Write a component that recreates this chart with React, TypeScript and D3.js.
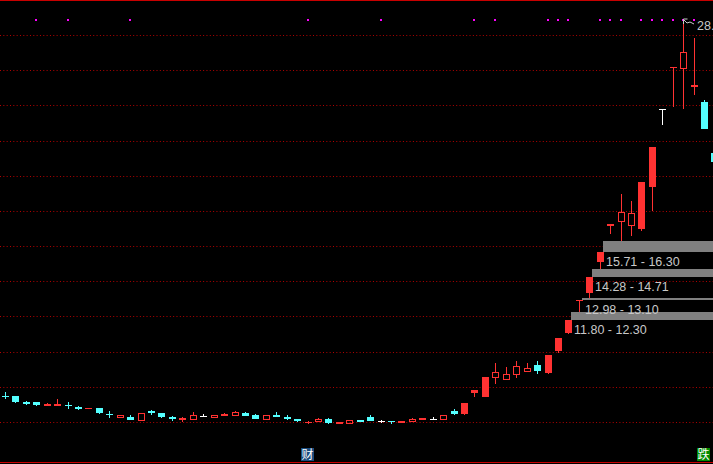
import React from 'react';
import * as d3 from 'd3';

// Daily K-line values (price)
const opens = [
  7.51, 7.50, 7.15, 7.15, 6.94, 6.94, 6.97, 6.89, 6.79, 6.81,
  6.49, 6.26, 6.30, 6.09, 6.66, 6.53, 6.32, 6.15, 6.15, 6.34,
  6.26, 6.37, 6.37, 6.53, 6.41, 6.15, 6.43, 6.32, 6.19, 6.03,
  6.03, 6.20, 5.92, 5.92, 6.13, 6.32, 6.07, 6.09, 5.98, 6.03,
  6.15, 6.17, 6.15, 6.66, 6.49, 7.67, 7.44, 8.54, 8.42, 8.71,
  8.88, 9.26, 8.82, 10.06, 11.10, 12.92, 13.34, 15.14, 17.15, 17.42,
  17.19, 17.00, 19.41, 23.82, 26.15, 26.09, 25.10, 24.23, 21.31,
];
const highs = [
  7.71, 7.50, 7.21, 7.15, 7.10, 7.33, 7.15, 6.94, 6.81, 6.81,
  6.64, 6.41, 6.43, 6.53, 6.72, 6.53, 6.37, 6.32, 6.59, 6.47,
  6.41, 6.55, 6.64, 6.59, 6.47, 6.41, 6.59, 6.41, 6.19, 6.11,
  6.26, 6.26, 6.03, 6.13, 6.13, 6.43, 6.15, 6.09, 6.09, 6.26,
  6.26, 6.32, 6.43, 6.79, 7.11, 7.82, 8.60, 9.37, 9.15, 9.49,
  9.37, 9.49, 9.83, 10.81, 11.80, 12.98, 14.28, 15.71, 17.28, 18.99,
  18.59, 19.68, 21.65, 23.82, 26.20, 28.90, 27.87, 24.34, 21.31,
];
const lows = [
  7.31, 7.11, 6.98, 6.93, 6.94, 6.94, 6.76, 6.70, 6.77, 6.49,
  6.26, 6.26, 6.15, 6.09, 6.43, 6.26, 6.09, 6.02, 6.15, 6.34,
  6.26, 6.37, 6.37, 6.37, 6.20, 6.15, 6.32, 6.15, 6.02, 5.92,
  6.03, 5.92, 5.92, 5.92, 6.02, 6.09, 5.96, 5.92, 5.98, 6.03,
  6.15, 6.17, 6.15, 6.43, 6.43, 7.44, 7.44, 8.20, 8.42, 8.54,
  8.88, 8.77, 8.77, 9.93, 11.05, 12.30, 13.10, 14.71, 16.73, 16.30,
  16.62, 16.90, 18.04, 22.92, 23.96, 23.81, 24.59, 22.71, 20.81,
];
const closes = [
  7.50, 7.17, 7.04, 7.00, 7.06, 7.06, 6.96, 6.76, 6.80, 6.55,
  6.41, 6.41, 6.15, 6.53, 6.53, 6.32, 6.19, 6.26, 6.41, 6.34,
  6.41, 6.49, 6.58, 6.37, 6.20, 6.41, 6.32, 6.19, 6.09, 6.05,
  6.20, 5.98, 6.03, 6.13, 6.02, 6.09, 6.07, 6.03, 6.09, 6.20,
  6.26, 6.17, 6.43, 6.49, 7.11, 7.82, 8.60, 8.86, 8.73, 9.20,
  9.07, 8.94, 9.83, 10.81, 11.80, 12.98, 14.28, 15.71, 17.28, 17.97,
  17.89, 19.68, 21.65, 23.82, 26.20, 27.06, 25.20, 22.71, 20.81,
];

// Limit-up days (drawn solid)
const limitUpDays = [44, 45, 46, 52, 53, 54, 55, 56, 57, 58, 61, 62, 64];
// Signal days (magenta dots on top)
const signalDays = [3, 6, 12, 29, 36, 45, 47, 52, 53, 54, 57, 58, 59, 61, 62, 63, 64, 65, 66];
// Unfilled gaps
const gapStartDays = [54, 55, 56, 57];
const gapLows = [11.8, 12.98, 14.28, 15.71];
const gapHighs = [12.3, 13.1, 14.71, 16.3];
// Price grid
const gridPrices = [6, 8, 10, 12, 14, 16, 18, 20, 22, 24, 26, 28];
// Highest price marker
const highMarkDay = 65;
const highMarkLabel = '28.90';
// Event icons
const eventDays = [29, 67];
const eventLabels = ['财', '跌'];

const W = 713;
const H = 464;
const RED = '#ff3232';
const CYAN = '#54ffff';
const GRID = '#b40000';
const LABEL = '#c8c8c8';

export default function App() {
  const x = d3.scaleLinear().domain([0, 67]).range([5, 704]);
  const y = d3.scaleLinear().domain([3.753, 30.018]).range([462, 0]);
  const limitSet = new Set(limitUpDays);

  const candles = opens.map((o, i) => {
    const c = closes[i];
    const hi = highs[i];
    const lo = lows[i];
    const xc = Math.round(x(i));
    const color = c > o ? RED : c < o ? CYAN : '#ffffff';
    const top = Math.round(y(Math.max(o, c)));
    const bot = Math.round(y(Math.min(o, c)));
    const h = Math.max(1, bot - top);
    const yH = Math.round(y(hi));
    const yL = Math.round(y(lo));
    const hollow = c > o && !limitSet.has(i) && h >= 3;
    const els: React.ReactNode[] = [];
    if (hollow) {
      if (yH < top) els.push(<line key="u" x1={xc + 0.5} x2={xc + 0.5} y1={yH} y2={top} stroke={color} />);
      if (yL > top + h) els.push(<line key="d" x1={xc + 0.5} x2={xc + 0.5} y1={top + h} y2={yL} stroke={color} />);
      els.push(
        <rect key="b" x={xc - 3 + 0.5} y={top + 0.5} width={6} height={h - 1} fill="none" stroke={color} />
      );
    } else {
      if (yL > yH) els.push(<line key="w" x1={xc + 0.5} x2={xc + 0.5} y1={yH} y2={yL} stroke={color} />);
      els.push(<rect key="b" x={xc - 3} y={top} width={7} height={h} fill={color} />);
    }
    return <g key={i}>{els}</g>;
  });

  const bands = gapStartDays.map((d, k) => {
    const left = Math.round(x(d)) + 3;
    const yt = Math.round(y(gapHighs[k]));
    const yb = Math.round(y(gapLows[k]));
    return (
      <g key={k}>
        <rect x={left} y={yt} width={W - left} height={Math.max(1, yb - yt)} fill="#808080" />
        <text x={left + 3} y={yb + 14} fill={LABEL} fontSize={12.5} fontFamily="Liberation Sans, Arial, sans-serif">
          {`${gapLows[k].toFixed(2)} - ${gapHighs[k].toFixed(2)}`}
        </text>
      </g>
    );
  });

  const hx = Math.round(x(highMarkDay));
  const hy = Math.round(y(highs[highMarkDay]));

  return (
    <>
      <style>{`body{margin:0;background:#000;overflow:hidden}`}</style>
      <svg width={W} height={H} style={{ display: 'block', background: '#000' }}>
        <rect x={0} y={0} width={W} height={H} fill="#000" />
        {gridPrices.map((p) => {
          const yy = Math.floor(y(p)) + 0.5;
          return <line key={p} x1={0} x2={W} y1={yy} y2={yy} stroke={GRID} strokeDasharray="1,2.33" />;
        })}
        <line x1={0} x2={W} y1={0.5} y2={0.5} stroke="#c80000" />
        {candles}
        {bands}
        {signalDays.map((d) => {
          const xc = Math.round(x(d));
          return <rect key={d} x={xc - 1} y={19} width={2} height={2} fill="#ff00ff" />;
        })}
        <path
          d={`M${hx + 0.5},${hy - 1} h4 M${hx + 0.5},${hy - 1} v5 M${hx + 1},${hy} l3,3 l3,-1 l4,2`}
          stroke={LABEL}
          fill="none"
        />
        <text x={697} y={30} fill={LABEL} fontSize={12.5} fontFamily="Liberation Sans, Arial, sans-serif">
          {highMarkLabel}
        </text>
        {eventDays.map((d, k) => {
          const xc = Math.round(x(d));
          const bg = eventLabels[k] === '跌' ? '#008a00' : '#1a4c7e';
          return (
            <g key={d}>
              <rect x={xc - 7} y={448} width={13} height={13} fill={bg} />
              <text
                x={xc - 0.5}
                y={459}
                textAnchor="middle"
                fill="#ffffff"
                fontSize={12}
                fontFamily="Noto Sans CJK SC, sans-serif"
              >
                {eventLabels[k]}
              </text>
            </g>
          );
        })}
        <line x1={0} x2={W} y1={462.5} y2={462.5} stroke="#c80000" />
      </svg>
    </>
  );
}
